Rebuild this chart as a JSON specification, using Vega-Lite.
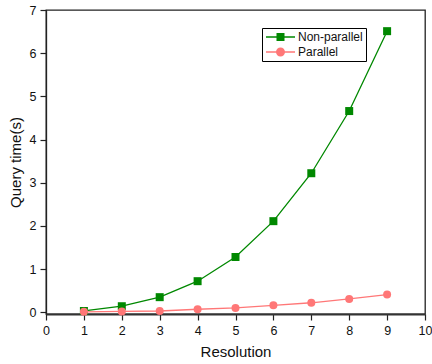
{
  "$schema": "https://vega.github.io/schema/vega-lite/v6.json",
  "autosize": {"type": "none"},
  "padding": {"left": 46, "top": 10, "right": 7, "bottom": 50},
  "width": 379,
  "height": 304,
  "background": "white",
  "config": {
    "view": {"stroke": "#222", "strokeWidth": 1.3},
    "font": "Liberation Sans",
    "axis": {
      "grid": false,
      "domainColor": "#222",
      "domainWidth": 1.3,
      "tickColor": "#222",
      "tickWidth": 1.2,
      "labelColor": "#111",
      "labelFont": "Liberation Sans",
      "labelFontSize": 12.5,
      "titleFont": "Liberation Sans",
      "titleFontSize": 15,
      "titleFontWeight": "normal",
      "titleColor": "#111"
    },
    "axisBottom": {"domainWidth": 1.8, "domainColor": "#333"}
  },
  "datasets": {
    "main": [
      {"res": 1, "time": 0.03, "series": "Non-parallel"},
      {"res": 2, "time": 0.14, "series": "Non-parallel"},
      {"res": 3, "time": 0.35, "series": "Non-parallel"},
      {"res": 4, "time": 0.72, "series": "Non-parallel"},
      {"res": 5, "time": 1.28, "series": "Non-parallel"},
      {"res": 6, "time": 2.11, "series": "Non-parallel"},
      {"res": 7, "time": 3.22, "series": "Non-parallel"},
      {"res": 8, "time": 4.66, "series": "Non-parallel"},
      {"res": 9, "time": 6.51, "series": "Non-parallel"},
      {"res": 1, "time": 0.01, "series": "Parallel"},
      {"res": 2, "time": 0.02, "series": "Parallel"},
      {"res": 3, "time": 0.03, "series": "Parallel"},
      {"res": 4, "time": 0.07, "series": "Parallel"},
      {"res": 5, "time": 0.1, "series": "Parallel"},
      {"res": 6, "time": 0.16, "series": "Parallel"},
      {"res": 7, "time": 0.22, "series": "Parallel"},
      {"res": 8, "time": 0.31, "series": "Parallel"},
      {"res": 9, "time": 0.41, "series": "Parallel"}
    ],
    "xmajor": [{"v": 1}, {"v": 2}, {"v": 3}, {"v": 4}, {"v": 5}, {"v": 6}, {"v": 7}, {"v": 8}, {"v": 9}],
    "xminor": [{"v": 0.5}, {"v": 1.5}, {"v": 2.5}, {"v": 3.5}, {"v": 4.5}, {"v": 5.5}, {"v": 6.5}, {"v": 7.5}, {"v": 8.5}, {"v": 9.5}],
    "ymajor": [{"v": 0}, {"v": 1}, {"v": 2}, {"v": 3}, {"v": 4}, {"v": 5}, {"v": 6}],
    "yminor": [{"v": 0.5}, {"v": 1.5}, {"v": 2.5}, {"v": 3.5}, {"v": 4.5}, {"v": 5.5}, {"v": 6.5}]
  },
  "encoding": {
    "x": {"field": "res", "type": "quantitative", "scale": {"domain": [0, 10], "nice": false},
      "axis": {"orient": "bottom", "values": [0,0.5,1,1.5,2,2.5,3,3.5,4,4.5,5,5.5,6,6.5,7,7.5,8,8.5,9,9.5,10],
        "format": "d",
        "tickSize": {"condition": {"test": "datum.value % 1 === 0", "value": 6}, "value": 3},
        "labelExpr": "datum.value % 1 === 0 ? datum.label : ''",
        "labelPadding": 4, "title": "Resolution", "titlePadding": 8, "labelFlush": false}},
    "y": {"field": "time", "type": "quantitative", "scale": {"domain": [-0.04, 7], "nice": false, "zero": false},
      "axis": {"orient": "left", "values": [0,0.5,1,1.5,2,2.5,3,3.5,4,4.5,5,5.5,6,6.5,7],
        "format": "d",
        "tickSize": {"condition": {"test": "datum.value % 1 === 0", "value": 6}, "value": 3},
        "labelExpr": "datum.value % 1 === 0 ? datum.label : ''",
        "labelPadding": 4, "title": "Query time(s)", "titlePadding": 6, "labelFlush": false}}
  },
  "layer": [
    {
      "data": {"name": "xmajor"},
      "mark": {"type": "rule", "strokeWidth": 1.3, "color": "#222"},
      "encoding": {"x": {"field": "v", "type": "quantitative"}, "y": {"datum": 7, "type": "quantitative"}, "y2": {"datum": 6.884}}
    },
    {
      "data": {"name": "xminor"},
      "mark": {"type": "rule", "strokeWidth": 1.3, "color": "#222"},
      "encoding": {"x": {"field": "v", "type": "quantitative"}, "y": {"datum": 7, "type": "quantitative"}, "y2": {"datum": 6.93}}
    },
    {
      "data": {"name": "ymajor"},
      "mark": {"type": "rule", "strokeWidth": 1.3, "color": "#222"},
      "encoding": {"y": {"field": "v", "type": "quantitative"}, "x": {"datum": 10, "type": "quantitative"}, "x2": {"datum": 9.868}}
    },
    {
      "data": {"name": "yminor"},
      "mark": {"type": "rule", "strokeWidth": 1.3, "color": "#222"},
      "encoding": {"y": {"field": "v", "type": "quantitative"}, "x": {"datum": 10, "type": "quantitative"}, "x2": {"datum": 9.921}}
    },
    {
      "data": {"name": "main"},
      "transform": [{"filter": {"field": "series", "equal": "Non-parallel"}}],
      "mark": {"type": "line", "strokeWidth": 1.3, "color": "#008800"}
    },
    {
      "data": {"name": "main"},
      "transform": [{"filter": {"field": "series", "equal": "Non-parallel"}}],
      "mark": {"type": "point", "shape": "square", "filled": true, "opacity": 1, "size": 64, "color": "#008800"}
    },
    {
      "data": {"name": "main"},
      "transform": [{"filter": {"field": "series", "equal": "Parallel"}}],
      "mark": {"type": "line", "strokeWidth": 1.3, "color": "#ff7777"}
    },
    {
      "data": {"name": "main"},
      "transform": [{"filter": {"field": "series", "equal": "Parallel"}}],
      "mark": {"type": "point", "shape": "circle", "filled": true, "opacity": 1, "size": 64, "color": "#ff7777"}
    },
    {
      "data": {"name": "main"},
      "transform": [{"filter": {"field": "res", "gt": 100}}],
      "mark": {"type": "point", "filled": true, "opacity": 1},
      "encoding": {
        "color": {"field": "series", "type": "nominal",
          "scale": {"domain": ["Non-parallel", "Parallel"], "range": ["#008800", "#ff7777"]},
          "legend": {
            "orient": "none", "legendX": 216, "legendY": 18, "title": null,
            "strokeColor": "black", "fillColor": "white", "padding": 3, "cornerRadius": 0,
            "labelOffset": 21, "rowPadding": 3, "labelFontSize": 12, "labelFont": "Liberation Sans", "labelColor": "#111",
            "symbolSize": 100, "symbolStrokeWidth": 0
          }},
        "shape": {"field": "series", "type": "nominal",
          "scale": {"domain": ["Non-parallel", "Parallel"],
            "range": ["M-1,-0.13H4.8V0.13H-1ZM1.1,-0.8H2.7V0.8H1.1Z", "M-1,-0.13H4.8V0.13H-1ZM2.8,0A0.9,0.9,0,1,1,1,0A0.9,0.9,0,1,1,2.8,0Z"]}}
      }
    }
  ]
}
